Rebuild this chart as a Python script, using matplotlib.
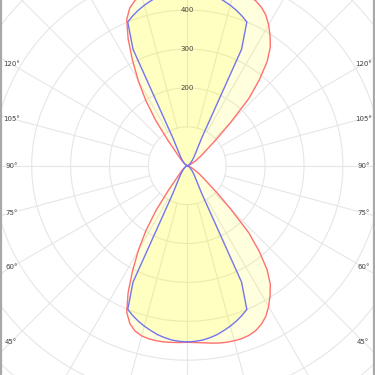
import numpy as np
import matplotlib
matplotlib.use("Agg")
import matplotlib.pyplot as plt
from matplotlib.lines import Line2D

# ---- data (candela, gamma angles 0..180 in 2.5 deg steps) ----
gamma = np.arange(0, 180.1, 2.5)

red_c0 = [454, 455, 457, 460, 463, 465, 466, 466, 464, 459, 450, 437, 418, 396, 372, 337, 288, 234,
          159, 105, 70, 52, 40, 30, 22, 16, 12, 8, 6, 4, 3, 2, 1, 0, 0, 0, 0,
          0, 0, 0, 1, 2, 3, 4, 6, 8, 12, 16, 22, 30, 40, 52, 70, 105, 159, 234, 288, 337, 372,
          396, 418, 437, 450, 459, 464, 466, 466, 465, 463, 460, 457, 455, 454]

red_c180 = [454, 455, 456, 457, 457, 456, 453, 446, 432, 407, 360, 305, 252, 198, 140, 80, 45, 32,
            24, 18, 13, 10, 8, 6, 5, 4, 3, 2, 2, 1, 1, 1, 0, 0, 0, 0, 0,
            0, 0, 0, 0, 1, 1, 1, 2, 2, 3, 4, 5, 6, 8, 10, 13, 18, 24, 32, 45, 80, 140, 198, 252,
            305, 360, 407, 432, 446, 453, 456, 457, 457, 456, 455, 454]

blue_c90 = [453, 452, 450, 446, 441, 434, 427, 419, 410, 400, 330, 80, 55, 42, 34, 28, 23, 19,
            16, 13, 11, 9, 7, 6, 5, 4, 3, 2, 2, 1, 1, 1, 0, 0, 0, 0, 0,
            0, 0, 0, 0, 1, 1, 1, 2, 2, 3, 4, 5, 6, 7, 9, 11, 13, 16, 19, 23, 28, 34, 42, 55, 80,
            330, 400, 410, 419, 427, 434, 441, 446, 450, 452, 453]

ring_values = [100, 200, 300, 400, 500, 600, 700, 800]
ring_labels = [200, 300, 400]
angle_labels = [45, 60, 75, 90, 105, 120]

# ---- layout ----
W = H = 375
fig = plt.figure(figsize=(W / 100, H / 100), dpi=100)
fig.patch.set_facecolor("white")

cx_px, cy_px = 187.3, 165.7
px_per_unit = 0.389
rmax = 800
rad_px = rmax * px_per_unit
w = 2 * rad_px / W
ax = fig.add_axes([cx_px / W - w / 2, (H - cy_px) / H - w / 2, w, w], projection="polar")
ax.set_theta_zero_location("S")
ax.set_theta_direction(1)
ax.set_ylim(0, rmax)
ax.grid(False)
ax.set_xticks([])
ax.set_yticks([])
ax.spines["polar"].set_visible(False)
ax.set_facecolor("white")

grid_c = "#e6e6e6"
tfine = np.linspace(0, 2 * np.pi, 721)
for rv in ring_values:
    ax.plot(tfine, np.full_like(tfine, rv), color=grid_c, lw=0.8, zorder=1)
for a in np.arange(0, 360, 15):
    t = np.radians(a)
    ax.plot([t, t], [ring_values[0], rmax], color=grid_c, lw=0.8, zorder=1)

g = np.radians(gamma)

def closed(right, left):
    th = np.concatenate([g, -g[::-1]])
    rr = np.concatenate([np.asarray(right, float), np.asarray(left, float)[::-1]])
    return th, rr

th_r, r_r = closed(red_c0, red_c180)
th_b, r_b = closed(blue_c90, blue_c90)

ax.fill(th_r, r_r, color="#ffff00", alpha=0.13, lw=0, zorder=2)
ax.fill(th_b, r_b, color="#ffff00", alpha=0.13, lw=0, zorder=2)
ax.plot(th_r, r_r, color="#ff7070", lw=1.0, zorder=4)
ax.plot(th_b, r_b, color="#7474f0", lw=1.0, zorder=4)

for v in ring_labels:
    ax.text(np.pi, v, str(v), ha="center", va="center", fontsize=5, color="#444444", zorder=5)

D = 176 / px_per_unit
for a in angle_labels:
    rr = D / np.sin(np.radians(a))
    for sgn in (-1, 1):
        ax.text(sgn * np.radians(a), rr, f"{a}°", ha="center", va="center",
                fontsize=5, color="#444444", zorder=5, clip_on=False)

for xf in (1.0 / W, (W - 1.5) / W):
    fig.add_artist(Line2D([xf, xf], [0, 1], transform=fig.transFigure, color="#a8a8a8", lw=1.6))

fig.savefig("out.png", dpi=100)
